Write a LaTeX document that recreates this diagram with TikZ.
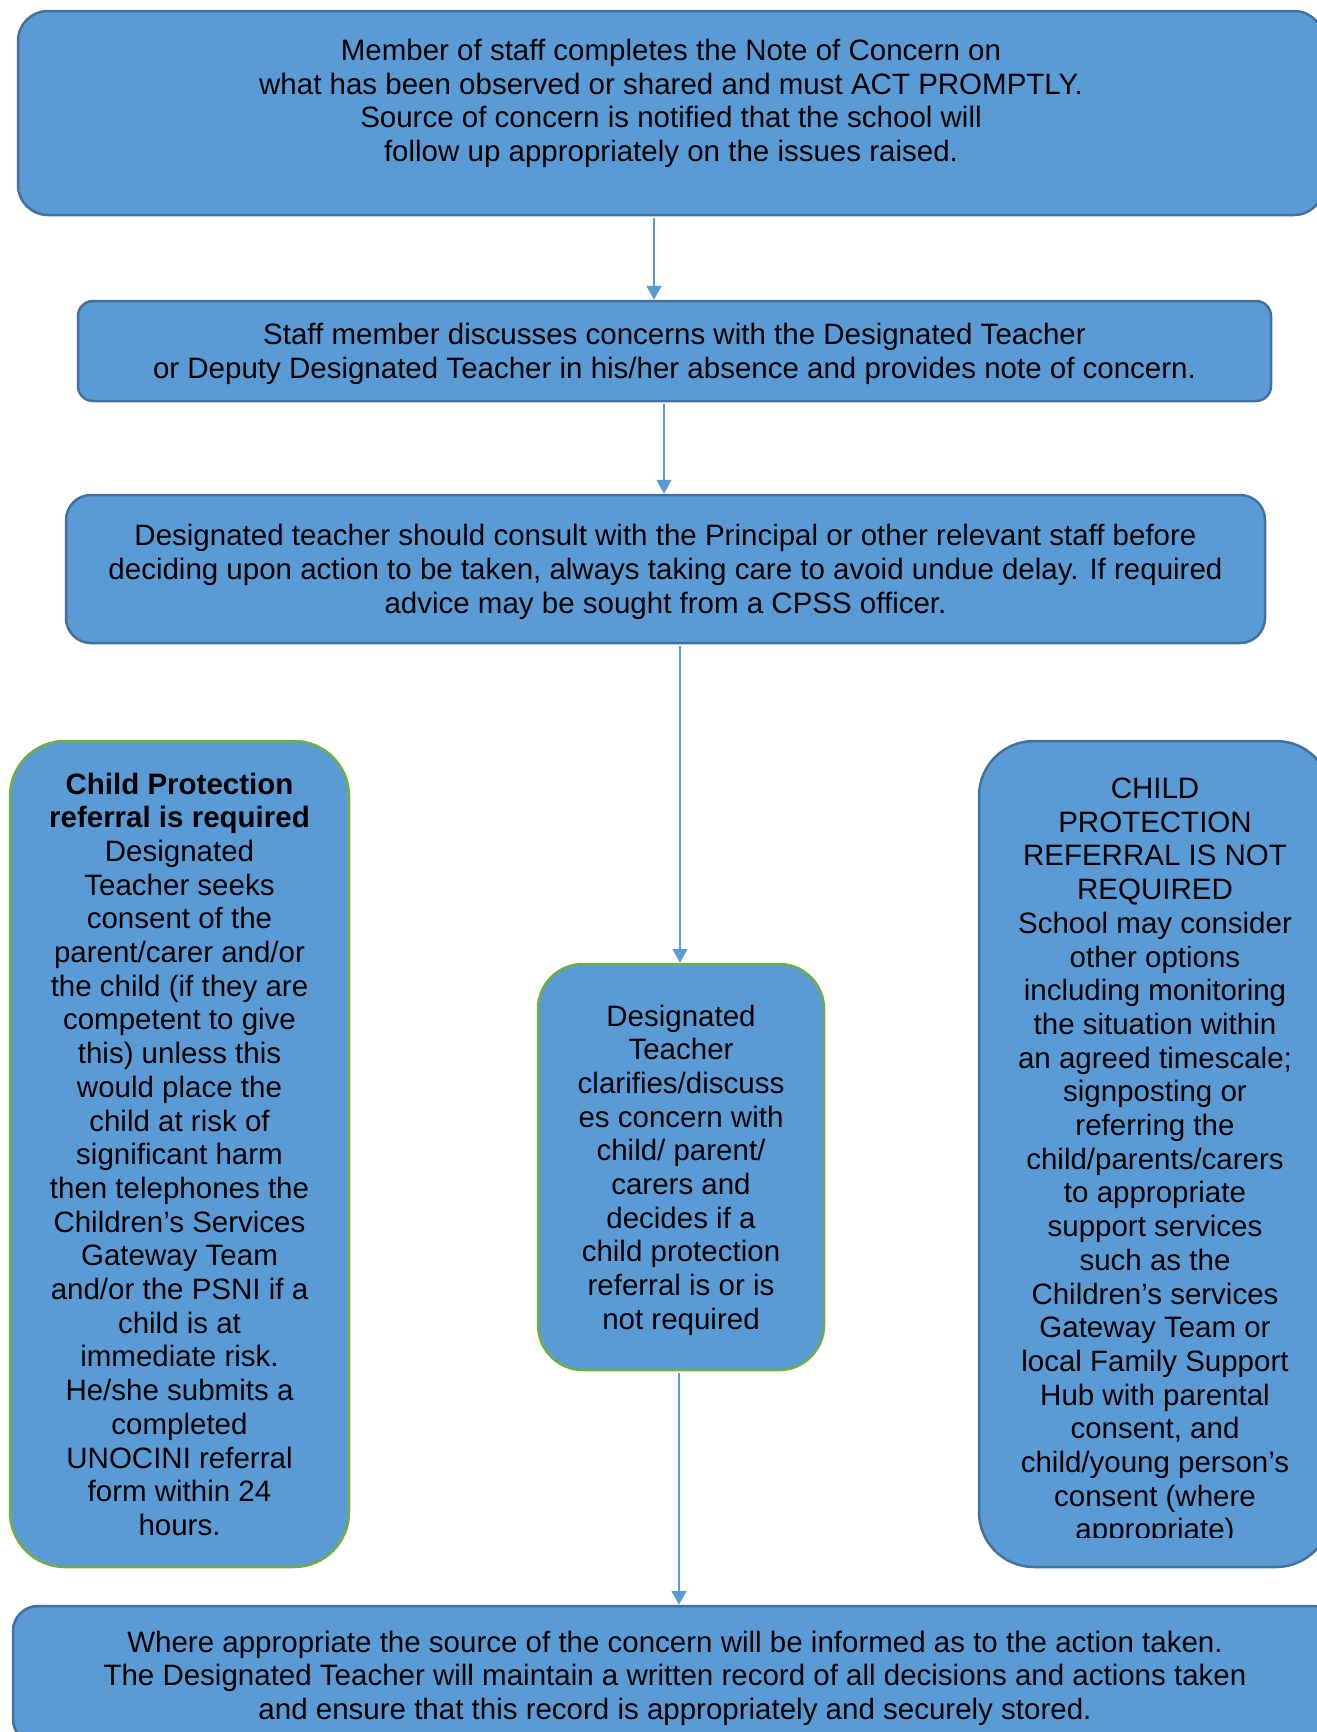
\documentclass[tikz,border=0pt]{standalone}
\usepackage{fontspec}
\setmainfont{Liberation Sans}
\usetikzlibrary{arrows.meta,positioning}

\begin{document}
\begin{tikzpicture}
        [x=1pt, y=-1pt, line join=round,
        % Styles
        flow box/.style={draw=boxedge, fill=boxfill, line width=2.5pt, inner sep=0pt,
                align=center, text depth=-1pt, font=\fontsize{29.5}{33.7}\selectfont},
        green box/.style={flow box, draw=greenedge},
        box text/.style={align=center, inner sep=0pt, font=\fontsize{29.5}{33.7}\selectfont},
        flow arrow/.style={draw=arrowcolor, line width=2pt, shorten <=2pt,
                -{Triangle[width=15pt, length=14pt]}}]

        % Colors
        \definecolor{boxfill}{HTML}{5B9BD5}
        \definecolor{boxedge}{HTML}{41719C}
        \definecolor{greenedge}{HTML}{70AD47}
        \definecolor{arrowcolor}{HTML}{5B9BD5}

        \useasboundingbox (0, 0) rectangle (1317, 1732);
        \clip (0, 0) rectangle (1317, 1732);

        % The boxes
        \node[flow box, rounded corners=30pt, minimum width=1306pt, minimum height=204pt,
                text depth=25.5pt] (concern) at (671, 113)
                {Member of staff completes the Note of Concern on\\
                 what has been observed or shared and must ACT PROMPTLY.\\
                 Source of concern is notified that the school will\\
                 follow up appropriately on the issues raised.};

        \node[flow box, rounded corners=15pt, minimum width=1193pt, minimum height=100pt]
                (discuss) at (674.5, 351)
                {Staff member discusses concerns with the Designated Teacher\\
                 or Deputy Designated Teacher in his/her absence and provides note of concern.};

        \node[flow box, rounded corners=25pt, minimum width=1199pt, minimum height=148pt]
                (consult) at (665.5, 569)
                {Designated teacher should consult with the Principal or other relevant staff before\\
                 deciding upon action to be taken, always taking care to avoid undue delay. If required\\
                 advice may be sought from a CPSS officer.};

        \node[green box, rounded corners=55pt, minimum width=339pt, minimum height=826pt]
                (required) at (179.5, 1154)
                {\textbf{Child Protection}\\
                 \textbf{referral is required}\\
                 Designated\\ Teacher seeks\\ consent of the\\ parent/carer and/or\\
                 the child (if they are\\ competent to give\\ this) unless this\\
                 would place the\\ child at risk of\\ significant harm\\
                 then telephones the\\ Children’s Services\\ Gateway Team\\
                 and/or the PSNI if a\\ child is at\\ immediate risk.\\
                 He/she submits a\\ completed\\ UNOCINI referral\\ form within 24\\ hours.};

        \node[green box, rounded corners=45pt, minimum width=286pt, minimum height=406pt]
                (clarify) at (681, 1167)
                {Designated\\ Teacher\\ clarifies/discuss\\ es concern with\\ child/ parent/\\
                 carers and\\ decides if a\\ child protection\\ referral is or is\\ not required};

        \node[flow box, rounded corners=55pt, minimum width=352pt, minimum height=826pt]
                (notrequired) at (1155, 1154) {};
        \begin{scope}
                \clip (900, 700) rectangle (1317, 1537);
                \node[box text] (notrequiredtext) at (1155, 1162)
                        {CHILD\\ PROTECTION\\ REFERRAL IS NOT\\ REQUIRED\\
                         School may consider\\ other options\\ including monitoring\\
                         the situation within\\ an agreed timescale;\\ signposting or\\
                         referring the\\ child/parents/carers\\ to appropriate\\
                         support services\\ such as the\\ Children’s services\\
                         Gateway Team or\\ local Family Support\\ Hub with parental\\
                         consent, and\\ child/young person’s\\ consent (where\\ appropriate)};
        \end{scope}

        \node[flow box, rounded corners=25pt, minimum width=1324pt, minimum height=138pt]
                (record) at (675, 1675)
                {Where appropriate the source of the concern will be informed as to the action taken.\\
                 The Designated Teacher will maintain a written record of all decisions and actions taken\\
                 and ensure that this record is appropriately and securely stored.};

        % The arrows
        \draw[flow arrow] ([xshift=-17pt]concern.south) -- ([xshift=-17pt]concern.south |- discuss.north);
        \draw[flow arrow] ([xshift=-10.5pt]discuss.south) -- ([xshift=-10.5pt]discuss.south |- consult.north);
        \draw[flow arrow] ([xshift=14.5pt]consult.south) -- ([xshift=14.5pt]consult.south |- clarify.north);
        \draw[flow arrow] ([xshift=-2pt]clarify.south) -- ([xshift=-2pt]clarify.south |- record.north);
\end{tikzpicture}
\end{document}
